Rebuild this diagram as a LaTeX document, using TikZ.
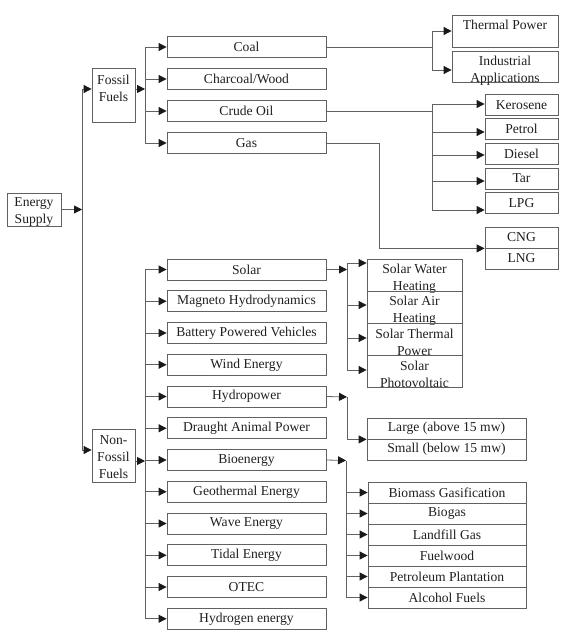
\documentclass[tikz,border=0pt]{standalone}
\usepackage{fontspec}
\setmainfont{Liberation Serif}
\usetikzlibrary{arrows.meta, positioning, calc}
\colorlet{linegray}{black!62}
\colorlet{inkcol}{black!88}

\begin{document}
\begin{tikzpicture}[x=1pt, y=-1pt, >={Triangle[length=8pt,width=8pt,color=black!90]},
		every node/.style={font=\fontsize{13.6}{17}\selectfont, text=inkcol},
		box/.style={draw=linegray, line width=0.8pt, inner sep=0pt, align=center},
		conn/.style={draw=linegray, line width=0.8pt}]
	\useasboundingbox (0,0) rectangle (576,640);

	% root and the two families
	\node[box, minimum width=54, minimum height=33,
		label={[align=center, yshift=-2.5]center:Energy\\Supply}] (supply) at (34,209.5) {};
	\node[box, minimum width=43, minimum height=54,
		label={[align=center, yshift=7]center:Fossil\\Fuels}] (fossil) at (113.5,95) {};
	\node[box, minimum width=43, minimum height=53,
		label={[align=center, yshift=-1.5]center:Non-\\Fossil\\Fuels}] (nonfossil) at (113.5,455.5) {};

	\coordinate (mainbus) at (82,209.5);
	\coordinate (ffbus) at (145,89);
	\coordinate (nfbus) at (145,461);

	\draw[conn,->] (supply.east) -- (mainbus);
	\draw[conn] ([yshift=6]fossil.west -| mainbus) -- ([yshift=5.5]nonfossil.west -| mainbus);
	\draw[conn,->] ([yshift=6]fossil.west -| mainbus) -- ([yshift=6]fossil.west);
	\draw[conn,->] ([yshift=5.5]nonfossil.west -| mainbus) -- ([yshift=5.5]nonfossil.west);

	% fossil fuels
	\foreach \nm/\txt/\y in {coal/Coal/47, wood/{Charcoal/Wood}/79, crude/Crude Oil/111, gas/Gas/143}{
		\node[box, minimum width=159, minimum height=21] (\nm) at (246.5,\y) {\txt};
		\draw[conn,->] (\nm.west -| ffbus) -- (\nm.west);
	}
	\draw[conn,->] ([yshift=6]fossil.east) -- (ffbus);
	\draw[conn] (coal.west -| ffbus) -- (gas.west -| ffbus);

	% coal uses
	\node[box, minimum width=106, minimum height=32,
		label={[yshift=6]center:Thermal Power}] (thermal) at (505,31) {};
	\node[box, minimum width=106, minimum height=31,
		label={[align=center, yshift=-4]center:Industrial\\Applications}] (indus) at (505,66.5) {};
	\coordinate (coalbus) at (432,47);
	\draw[conn] (coal.east) -- (coalbus);
	\draw[conn] (thermal.west -| coalbus) -- ([yshift=-3.5]indus.west -| coalbus);
	\draw[conn,->] (thermal.west -| coalbus) -- (thermal.west);
	\draw[conn,->] ([yshift=-3.5]indus.west -| coalbus) -- ([yshift=-3.5]indus.west);

	% crude oil products
	\coordinate (oilbus) at (432,111);
	\foreach \nm/\txt/\y/\dy in {kero/Kerosene/105/1, petrol/Petrol/129/-3, diesel/Diesel/153.5/-1.5,
			tar/Tar/178.5/-2.5, lpg/LPG/203/-7}{
		\node[box, minimum width=73, minimum height=21] (\nm) at (521.5,\y) {\txt};
		\draw[conn,->] ([yshift=\dy]\nm.west -| oilbus) -- ([yshift=\dy]\nm.west);
	}
	\draw[conn] (crude.east) -- (oilbus);
	\draw[conn] ([yshift=1]kero.west -| oilbus) -- ([yshift=-7]lpg.west -| oilbus);

	% gas
	\node[box, minimum width=73, minimum height=21] (cng) at (521.5,237.5) {CNG};
	\node[box, minimum width=73, minimum height=21] (lng) at (521.5,258.5) {LNG};
	\coordinate (gasbus) at (379,143);
	\draw[conn,->] (gas.east) -- (gasbus) |- (cng.south west);

	% non-fossil fuels
	\foreach \nm/\txt [count=\i from 0] in {solar/Solar, mhd/Magneto Hydrodynamics,
			ev/Battery Powered Vehicles, wind/Wind Energy, hydro/Hydropower,
			draught/Draught Animal Power, bio/Bioenergy, geo/Geothermal Energy,
			wave/Wave Energy, tidal/Tidal Energy, otec/OTEC, hyd/Hydrogen energy}{
		\node[box, minimum width=159, minimum height=21] (\nm) at (246.5,269.5+31.75*\i) {\txt};
		\draw[conn,->] (\nm.west -| nfbus) -- (\nm.west);
	}
	\draw[conn,->] ([yshift=-5.5]nonfossil.east) -- (nfbus);
	\draw[conn] (solar.west -| nfbus) -- (hyd.west -| nfbus);

	% solar
	\coordinate (solarbus) at (347,269.5);
	\foreach \nm/\txt/\dy [count=\i from 0] in {swh/{Solar Water\\Heating}/12, sah/{Solar Air\\Heating}/2,
			stp/{Solar Thermal\\Power}/1, spv/{Solar\\Photovoltaic}/1}{
		\node[box, minimum width=95, minimum height=32,
			label={[align=center, yshift=-3.5]center:\txt}] (\nm) at (414.5,275+32*\i) {};
		\draw[conn,->] ([yshift=\dy]\nm.west -| solarbus) -- ([yshift=\dy]\nm.west);
	}
	\draw[conn,->] (solar.east) -- (solarbus);
	\draw[conn] ([yshift=12]swh.west -| solarbus) -- ([yshift=1]spv.west -| solarbus);

	% hydropower
	\node[box, minimum width=159, minimum height=21] (large) at (446.5,428.5) {Large (above 15 mw)};
	\node[box, minimum width=159, minimum height=21] (small) at (446.5,449.5) {Small (below 15 mw)};
	\coordinate (hydrobus) at (347,397);
	\draw[conn,->] (hydro.east) -- (hydrobus);
	\draw[conn,->] (hydrobus) |- (large.south west);

	% bioenergy
	\coordinate (biobus) at (346,460.5);
	\foreach \nm/\txt [count=\i from 0] in {gasif/Biomass Gasification, biogas/Biogas,
			landfill/Landfill Gas, fuelwood/Fuelwood, plant/Petroleum Plantation, alcohol/Alcohol Fuels}{
		\node[box, minimum width=158, minimum height=21] (\nm) at (447,492.5+21*\i) {\txt};
		\draw[conn,->] (\nm.west -| biobus) -- (\nm.west);
	}
	\draw[conn,->] (bio.east) -- (biobus);
	\draw[conn] (biobus) -- (alcohol.west -| biobus);
\end{tikzpicture}
\end{document}
